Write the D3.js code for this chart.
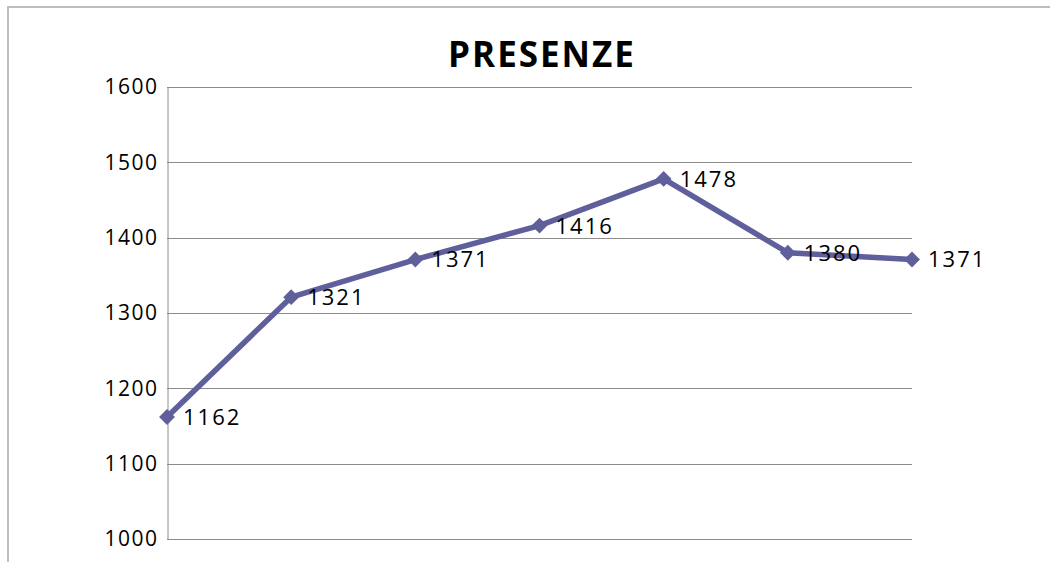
<!DOCTYPE html>
<html>
<head>
<meta charset="utf-8">
<script src="https://cdn.jsdelivr.net/npm/d3@7"></script>
<style>
  body { margin: 0; background: #fff; }
  svg { display: block; font-family: "Open Sans", "Noto Sans", sans-serif; }
</style>
</head>
<body>
<div id="chart"></div>
<script>
const categories = ["1", "2", "3", "4", "5", "6", "7"];
const presenze = [1162, 1321, 1371, 1416, 1478, 1380, 1371];
const yTicks = [1000, 1100, 1200, 1300, 1400, 1500, 1600];

const W = 1050, H = 562;
const MARGIN = { TOP: 87, LEFT: 167, RIGHT: 138, BOTTOM: 23 };

const svg = d3.select("#chart").append("svg")
    .attr("width", W)
    .attr("height", H);

// outer chart frame (runs off the right and bottom)
svg.append("rect")
    .attr("x", 8).attr("y", 7)
    .attr("width", W + 20).attr("height", H + 20)
    .attr("fill", "none")
    .attr("stroke", "#bdbdbd")
    .attr("stroke-width", 2);

const x = d3.scalePoint()
    .domain(categories)
    .range([MARGIN.LEFT, W - MARGIN.RIGHT]);

const y = d3.scaleLinear()
    .domain([1000, 1600])
    .range([H - MARGIN.BOTTOM, MARGIN.TOP]);

// grid
svg.append("g")
    .selectAll("line")
    .data(yTicks)
    .enter().append("line")
    .attr("x1", MARGIN.LEFT)
    .attr("x2", W - MARGIN.RIGHT)
    .attr("y1", d => Math.round(y(d)) + 0.5)
    .attr("y2", d => Math.round(y(d)) + 0.5)
    .attr("stroke", "#8c8c8c");

// y axis
const yAxis = svg.append("g")
    .attr("transform", `translate(${MARGIN.LEFT + 0.5},0)`)
    .call(d3.axisLeft(y).tickValues(yTicks).tickFormat(d3.format("d")).tickSize(0).tickPadding(9));
yAxis.select(".domain").attr("stroke", "#8c8c8c");
yAxis.selectAll("text")
    .attr("font-size", 21)
    .attr("font-family", "Open Sans, sans-serif")
    .attr("letter-spacing", 1.5)
    .attr("fill", "#000");

// title
svg.append("text")
    .attr("x", 542)
    .attr("y", 67)
    .attr("text-anchor", "middle")
    .attr("font-size", 35)
    .attr("font-weight", "bold")
    .attr("letter-spacing", 2)
    .text("PRESENZE");

const line = d3.line()
    .x((d, i) => x(categories[i]))
    .y(d => y(d));

svg.append("path")
    .datum(presenze)
    .attr("d", line)
    .attr("fill", "none")
    .attr("stroke", "#5f5f9c")
    .attr("stroke-width", 5.5)
    .attr("stroke-linejoin", "round");

svg.append("g")
    .selectAll("path")
    .data(presenze)
    .enter().append("path")
    .attr("d", d3.symbol(d3.symbolDiamond2, 160))
    .attr("transform", (d, i) => `translate(${x(categories[i])},${y(d)})`)
    .attr("fill", "#5f5f9c");

svg.append("g")
    .selectAll("text")
    .data(presenze)
    .enter().append("text")
    .attr("x", (d, i) => x(categories[i]) + 16)
    .attr("y", d => y(d))
    .attr("dy", "0.36em")
    .attr("font-size", 22)
    .attr("letter-spacing", 2)
    .text(d => d);
</script>
</body>
</html>
